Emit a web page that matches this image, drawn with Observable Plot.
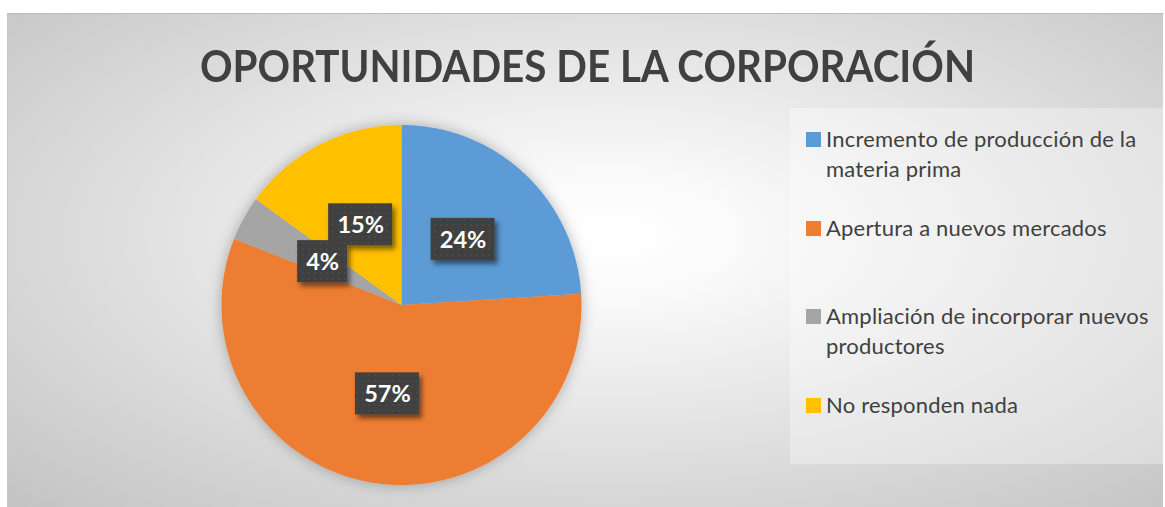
<!DOCTYPE html>
<html><head><meta charset="utf-8">
<script src="https://cdn.jsdelivr.net/npm/d3@7"></script>
<script src="https://cdn.jsdelivr.net/npm/@observablehq/plot@0.6"></script>
<style>
html,body{margin:0;padding:0;background:#fff;}
#wrap{position:relative;width:1165px;height:507px;overflow:hidden;font-family:Lato,"Open Sans",sans-serif;}
#bg{position:absolute;left:7px;top:13px;width:1156px;height:494px;box-sizing:border-box;border-top:1px solid #bcbcbc;border-left:1px solid #c6c6c6;
 background:radial-gradient(ellipse farthest-corner at 52% 45%, #ffffff 0%, #fbfbfb 14%, #c3c3c3 100%);}
#chart{position:absolute;left:0;top:0;}
#title{position:absolute;left:0;top:0;white-space:nowrap;font-weight:700;font-size:44px;line-height:44px;color:#404040;transform-origin:0 0;}
#legend{position:absolute;left:790px;top:108px;width:373px;height:356px;background:rgba(255,255,255,0.32);}
.item{position:absolute;left:16px;}
.sw{position:absolute;left:0;top:0;width:15px;height:15px;}
.lt{position:absolute;left:20px;top:-8.5px;width:335px;font-size:22px;letter-spacing:0.2px;line-height:30px;color:#404040;}
</style></head>
<body><div id="wrap"><div id="bg"></div><div id="chart"></div><div id="title"></div><div id="legend"></div></div>
<script>
const title = "OPORTUNIDADES DE LA CORPORACIÓN";
const categories = ["Incremento de producción de la materia prima", "Apertura a nuevos mercados", "Ampliación de incorporar nuevos productores", "No responden nada"];
const values = [24, 57, 4, 15];
const labels = ["24%", "57%", "4%", "15%"];
const colors = ["#5B9BD5", "#ED7D31", "#A5A5A5", "#FFC000"];

const W = 1165, H = 507;
const cx = 401, cy = 304.5, R = 180;

const data = categories.map((c, i) => ({name: c, value: values[i], label: labels[i]}));
const arcs = d3.pie().sort(null).value(d => d.value)(data);

// slice outlines in unit-circle space
const pts = [];
arcs.forEach(a => {
  const n = Math.max(2, Math.ceil((a.endAngle - a.startAngle) / (Math.PI / 360)));
  pts.push({name: a.data.name, x: 0, y: 0});
  for (let k = 0; k <= n; k++) {
    const t = a.startAngle + (a.endAngle - a.startAngle) * k / n;
    pts.push({name: a.data.name, x: Math.sin(t), y: -Math.cos(t)});
  }
  pts.push({name: a.data.name, x: 0, y: 0});
});

const lab = arcs.map(a => {
  const m = (a.startAngle + a.endAngle) / 2;
  const lx = 0.5 * Math.sin(m), ly = -0.5 * Math.cos(m);
  const hw = (14 * a.data.label.length + 22) / 2 / R, hh = 21 / R;
  return {label: a.data.label, lx, ly, x1: lx - hw, x2: lx + hw, y1: ly - hh, y2: ly + hh};
});

const defsMark = () => {
  const defs = d3.create("svg:defs");
  const pat = defs.append("pattern").attr("id", "dots").attr("width", 6).attr("height", 6).attr("patternUnits", "userSpaceOnUse");
  pat.append("rect").attr("width", 6).attr("height", 6).attr("fill", "#404040");
  pat.append("circle").attr("cx", 3).attr("cy", 3).attr("r", 1).attr("fill", "#4d4d4d");
  const f = defs.append("filter").attr("id", "pieShadow").attr("x", "-30%").attr("y", "-30%").attr("width", "160%").attr("height", "160%");
  f.append("feDropShadow").attr("dx", 0).attr("dy", 0).attr("stdDeviation", 7).attr("flood-color", "#000").attr("flood-opacity", 0.28);
  const g = defs.append("filter").attr("id", "boxShadow").attr("x", "-30%").attr("y", "-30%").attr("width", "160%").attr("height", "160%");
  g.append("feDropShadow").attr("dx", 3).attr("dy", 4).attr("stdDeviation", 2.5).attr("flood-color", "#000").attr("flood-opacity", 0.5);
  return defs.node();
};

const plot = Plot.plot({
  width: W, height: H,
  margin: 0,
  style: {background: "transparent", overflow: "visible"},
  x: {domain: [-1, 1], range: [cx - R, cx + R], axis: null},
  y: {domain: [-1, 1], range: [cy - R, cy + R], axis: null},
  color: {domain: categories, range: colors},
  marks: [
    defsMark,
    Plot.line(pts, {x: "x", y: "y", z: "name", fill: "name", stroke: "none", curve: "linear"}),
    Plot.rect(lab, {x1: "x1", x2: "x2", y1: "y1", y2: "y2", fill: "url(#dots)"}),
    Plot.text(lab, {x: "lx", y: "ly", text: "label", fill: "white", fontSize: 23.5, fontWeight: "bold", fontFamily: "Lato", dy: 1})
  ]
});
plot.querySelector('g[aria-label="line"]').setAttribute("filter", "url(#pieShadow)");
plot.querySelector('g[aria-label="rect"]').setAttribute("filter", "url(#boxShadow)");
document.getElementById("chart").appendChild(plot);

// title
const t = document.getElementById("title");
t.textContent = title;
function fitTitle() {
  t.style.transform = "none";
  const w = t.getBoundingClientRect().width;
  const target = 775, centerX = 587.5;
  const s = target / w;
  t.style.left = (centerX - target / 2) + "px";
  t.style.top = "43px";
  t.style.transform = `scaleX(${s})`;
}
fitTitle();
if (document.fonts) document.fonts.ready.then(fitTitle);

// legend
const legend = document.getElementById("legend");
const tops = [24, 113, 201, 290];
categories.forEach((c, i) => {
  const it = document.createElement("div");
  it.className = "item";
  it.style.top = tops[i] + "px";
  const sw = document.createElement("div");
  sw.className = "sw"; sw.style.background = colors[i];
  const lt = document.createElement("div");
  lt.className = "lt"; lt.textContent = c;
  it.appendChild(sw); it.appendChild(lt);
  legend.appendChild(it);
});
</script>
</body></html>
